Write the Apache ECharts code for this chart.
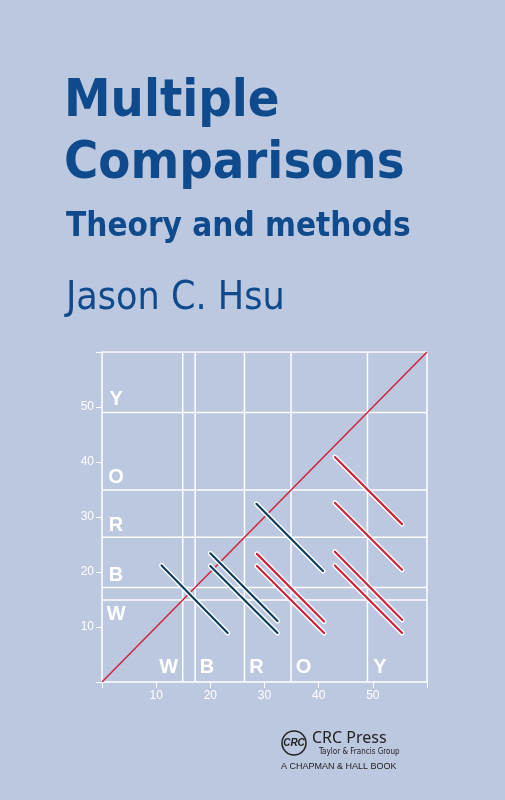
<!DOCTYPE html>
<html>
<head>
<meta charset="UTF-8">
<script src="https://cdn.jsdelivr.net/npm/echarts@6/dist/echarts.min.js"></script>
<style>
  html, body { margin: 0; padding: 0; background: #bcc7e0; }
  #main { width: 505px; height: 800px; }
</style>
</head>
<body>
<div id="main"></div>
<script>
// cut points, the same on both axes
var cuts = [14.9, 17.2, 26.3, 34.9, 49.0];
var letters = ['W', 'B', 'R', 'O', 'Y'];
var letterPos = [12.3, 19.4, 28.5, 37.2, 51.3];
// interval segments [x1, y1, x2, y2]
var navySegs = [
  [11.0, 21.2, 23.2, 8.9],
  [20.0, 23.4, 32.4, 11.1],
  [20.0, 21.1, 32.4, 8.9],
  [28.5, 32.4, 40.8, 20.2]
];
var redSegs = [
  [28.6, 23.3, 41.0, 11.0],
  [28.6, 21.1, 41.0, 8.9],
  [43.0, 40.9, 55.4, 28.7],
  [43.0, 32.6, 55.4, 20.4],
  [43.0, 23.7, 55.4, 11.3],
  [43.0, 21.2, 55.4, 8.9]
];
var ticks = [10, 20, 30, 40, 50];

var chart = echarts.init(document.getElementById('main'));
var series = [];
// white grid lines through cut points
cuts.forEach(function (c) {
  series.push({ type: 'line', data: [[c, 0], [c, 60]], symbol: 'none', silent: true,
    lineStyle: { color: '#fff', width: 1.5 }, z: 1 });
  series.push({ type: 'line', data: [[0, c], [60, c]], symbol: 'none', silent: true,
    lineStyle: { color: '#fff', width: 1.5 }, z: 1 });
});
// frame top/right
series.push({ type: 'line', data: [[0, 60], [60, 60], [60, 0]], symbol: 'none',
  lineStyle: { color: '#fff', width: 1.5 }, z: 1 });
// diagonal
series.push({ type: 'line', data: [[0, 0], [60, 60]], symbol: 'none',
  lineStyle: { color: '#d0243a', width: 1.5 }, z: 3 });
function addSegs(segs, color) {
  segs.forEach(function (s) {
    series.push({ type: 'line', data: [[s[0], s[1]], [s[2], s[3]]], symbol: 'none',
      lineStyle: { color: '#fff', width: 5, cap: 'round' }, z: 4 });
    series.push({ type: 'line', data: [[s[0], s[1]], [s[2], s[3]]], symbol: 'none',
      lineStyle: { color: color, width: 2.2, cap: 'round' }, z: 5 });
  });
}
addSegs(navySegs, '#0f3d5e');
addSegs(redSegs, '#d0243a');
// letters
var lx = [], ly = [];
letters.forEach(function (l, i) {
  lx.push({ value: [letterPos[i], 2.6], name: l });
  ly.push({ value: [2.6, letterPos[i]], name: l });
});
series.push({ type: 'scatter', data: lx.concat(ly), symbolSize: 0, z: 6,
  itemStyle: { opacity: 1 },
  label: { show: true, position: 'inside', formatter: '{b}', color: '#ffffff',
    textBorderWidth: 0, opacity: 1,
    fontSize: 20, fontWeight: 'bold', fontFamily: 'Liberation Sans' } });

var titleColor = '#0e4a8c';
chart.setOption({
  backgroundColor: '#bcc7e0',
  animation: false,
  grid: { left: 102, right: 78, top: 352, bottom: 118 },
  xAxis: { type: 'value', min: 0, max: 60, interval: 10, splitLine: { show: false },
    axisLine: { lineStyle: { color: '#fff', width: 1.5 } },
    axisTick: { lineStyle: { color: '#fff' }, length: 6 },
    axisLabel: { color: '#fff', fontSize: 12, formatter: function (v) { return ticks.indexOf(v) >= 0 ? v : ''; } } },
  yAxis: { type: 'value', min: 0, max: 60, interval: 10, splitLine: { show: false },
    axisLine: { show: true, lineStyle: { color: '#fff', width: 1.5 } },
    axisTick: { show: true, lineStyle: { color: '#fff' }, length: 6 },
    axisLabel: { color: '#fff', fontSize: 12, formatter: function (v) { return ticks.indexOf(v) >= 0 ? v : ''; } } },
  series: series,
  graphic: [
    { type: 'text', left: 64, top: 76, style: { text: 'Multiple', fill: titleColor,
      font: 'bold 52px "DejaVu Sans Condensed"' } },
    { type: 'text', left: 64, top: 138, style: { text: 'Comparisons', fill: titleColor,
      font: 'bold 52px "DejaVu Sans Condensed"' } },
    { type: 'text', left: 66, top: 211, style: { text: 'Theory and methods', fill: titleColor,
      font: 'bold 33px "DejaVu Sans Condensed"' } },
    { type: 'text', left: 66, top: 279, style: { text: 'Jason C. Hsu', fill: titleColor,
      font: '39px "DejaVu Sans Condensed"' } },
    { type: 'circle', shape: { cx: 294, cy: 743, r: 12 }, style: { fill: 'none', stroke: '#222', lineWidth: 1.5 } },
    { type: 'text', x: 294, y: 743, style: { text: 'CRC', fill: '#222', align: 'center', verticalAlign: 'middle',
      font: 'italic bold 10px "Liberation Sans"' } },
    { type: 'text', left: 312, top: 730, style: { text: 'CRC Press', fill: '#222', font: '16px "Noto Sans"' } },
    { type: 'text', left: 319, top: 748, style: { text: 'Taylor & Francis Group', fill: '#222', font: '8px "DejaVu Sans Condensed"' } },
    { type: 'text', left: 281, top: 762, style: { text: 'A CHAPMAN & HALL BOOK', fill: '#222', font: '9px "Liberation Sans"' } }
  ]
});
</script>
</body>
</html>
